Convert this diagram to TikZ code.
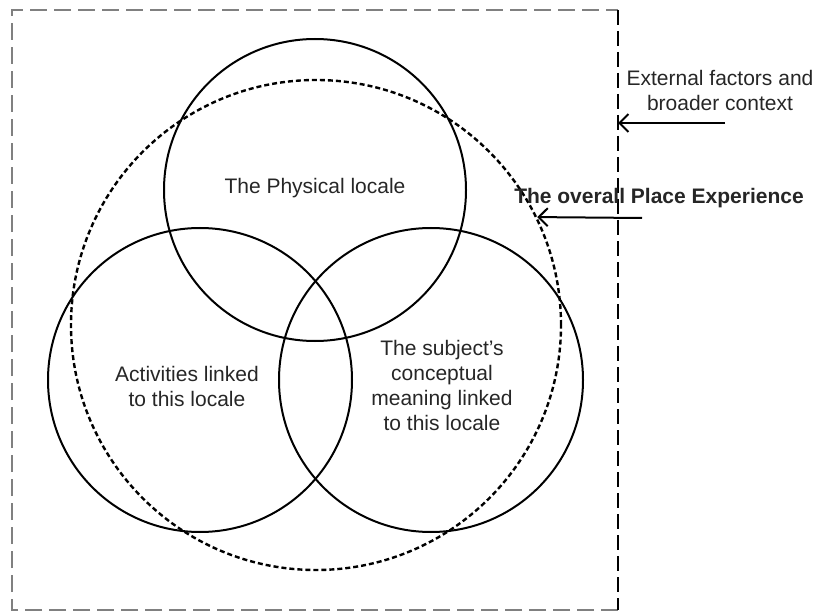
\documentclass[tikz,border=0pt]{standalone}
\usepackage{fontspec}
\setmainfont{Liberation Sans}
\usetikzlibrary{arrows.meta}
\begin{document}
\begin{tikzpicture}[x=1pt,y=-1pt,
  ring/.style={circle, draw=black, line width=2pt, inner sep=0pt},
  overall/.style={circle, draw=black, line width=2.4pt, dash pattern=on 5pt off 3pt, inner sep=0pt},
  lbl/.style={align=center, font=\fontsize{21}{25}\selectfont, text=black!85},
  pointer/.style={draw=black, line width=2pt, -{Straight Barb[length=9pt,width=18pt,line width=2pt]}},
  frame/.style={draw=black!50, line width=2.5pt, dash pattern=on 17pt off 7pt},
  frameright/.style={draw=black, line width=1.2pt, dash pattern=on 15pt off 6pt}
]
\useasboundingbox (0,0) rectangle (820,615);

% outer frame: the surrounding context
\coordinate (ftl) at (12,10);
\coordinate (ftr) at (618,10);
\coordinate (fbl) at (12,610);
\coordinate (fbr) at (618,610);
\draw[frame] (fbr) -- (fbl) -- (ftl) -- (ftr);
\draw[frameright] (ftr) -- (fbr);

% the overall place experience
\node[overall, minimum size=490pt] (place) at (316,325) {};

% the three overlapping aspects
\node[ring, minimum size=302pt] (phys) at (315,190) {};
\node[ring, minimum size=304pt] (act) at (200,380) {};
\node[ring, minimum size=304pt] (subj) at (431,380) {};

% labels inside the circles
\node[lbl] (physlbl) at (315,188) {The Physical locale};
\node[lbl] (actlbl) at (187,386) {Activities linked\\to this locale};
\node[lbl] (subjlbl) at (442,385) {The subject's\\conceptual\\meaning linked\\to this locale};

% side annotations
\node[lbl] (extlbl) at (720,90) {External factors and\\broader context};
\node[lbl, font=\fontsize{21}{25}\selectfont\bfseries] (placelbl) at (659,198) {The overall Place Experience};

\coordinate (extsrc) at (725,123);
\coordinate (exttip) at (618,123);
\draw[pointer] (extsrc) -- (exttip);

\coordinate (placesrc) at (642,218);
\draw[pointer] (placesrc) -- (place.26);
\end{tikzpicture}
\end{document}
